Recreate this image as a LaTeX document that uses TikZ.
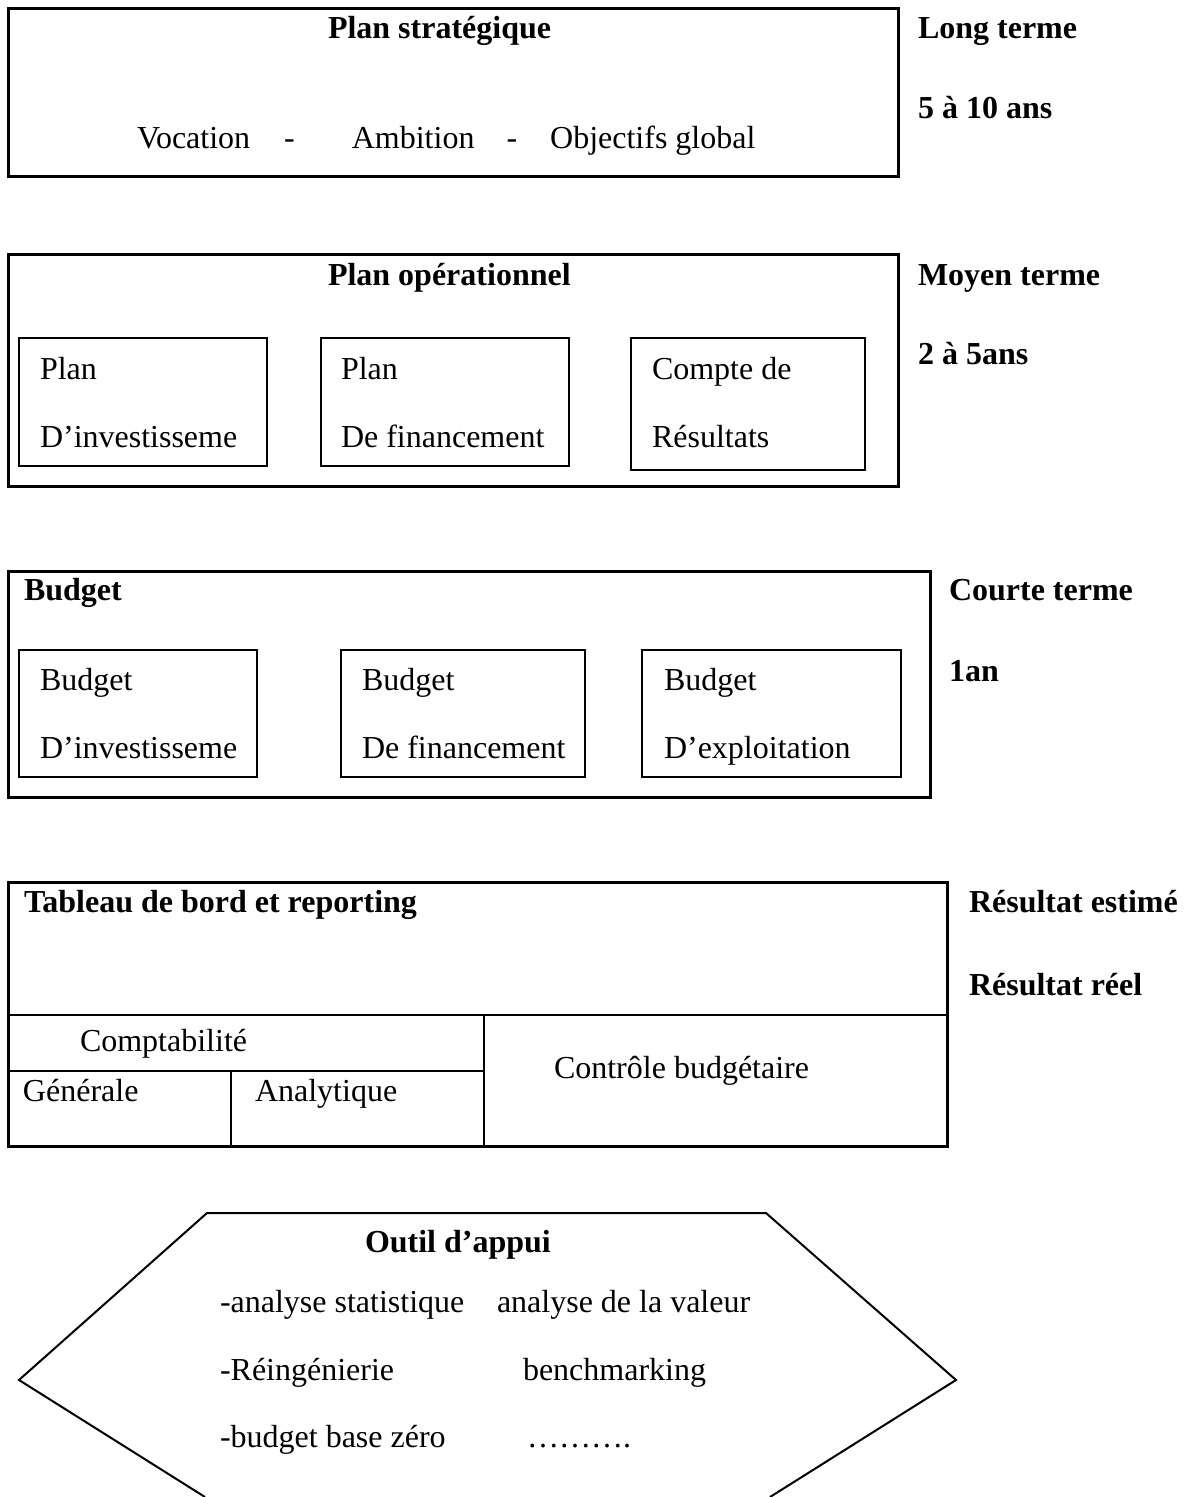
\documentclass[tikz,border=0pt]{standalone}
\usepackage{fontspec}
\setmainfont{Liberation Serif}
\begin{document}
\begin{tikzpicture}[x=1pt,y=-1pt,
  every node/.style={inner sep=0pt, outer sep=0pt},
  txt/.style={anchor=base west, font=\fontsize{32}{38}\selectfont},
  hd/.style={anchor=base west, font=\fontsize{32}{38}\selectfont\bfseries},
  outerbox/.style={draw, line width=3pt, anchor=north west},
  innerbox/.style={draw, line width=2pt, anchor=north west},
  rule/.style={line width=2.5pt},
  hexline/.style={line width=2pt, line join=miter}]
\useasboundingbox[fill=white] (0,0) rectangle (1184,1497);

% --- Plan stratégique ---
\node[outerbox, minimum width=890pt, minimum height=168pt] (strat) at (8,8) {};
\node[hd] (strattitle) at (328,38) {Plan stratégique};
\node[txt] (stratline) at (137,148) {Vocation\hspace{34pt}-\hspace{57pt}Ambition\hspace{32pt}-\hspace{33pt}Objectifs global};
\node[hd] (longt) at (918,38) {Long terme};
\node[hd] (longd) at (918,118) {5 à 10 ans};

% --- Plan opérationnel ---
\node[outerbox, minimum width=890pt, minimum height=232pt] (oper) at (8,254) {};
\node[hd] (opertitle) at (328,285) {Plan opérationnel};
\node[innerbox, minimum width=248pt, minimum height=128pt] (opa) at (19,338) {};
\node[innerbox, minimum width=248pt, minimum height=128pt] (opb) at (321,338) {};
\node[innerbox, minimum width=234pt, minimum height=132pt] (opc) at (631,338) {};
\node[txt] (opa1) at (40,379) {Plan};
\node[txt] (opa2) at (40,447) {D’investisseme};
\node[txt] (opb1) at (341,379) {Plan};
\node[txt] (opb2) at (341,447) {De financement};
\node[txt] (opc1) at (652,379) {Compte de};
\node[txt] (opc2) at (652,447) {Résultats};
\node[hd] (moyt) at (918,285) {Moyen terme};
\node[hd] (moyd) at (918,364) {2 à 5ans};

% --- Budget ---
\node[outerbox, minimum width=922pt, minimum height=226pt] (bud) at (8,571) {};
\node[hd] (budtitle) at (24,600) {Budget};
\node[innerbox, minimum width=238pt, minimum height=127pt] (bua) at (19,650) {};
\node[innerbox, minimum width=244pt, minimum height=127pt] (bub) at (341,650) {};
\node[innerbox, minimum width=259pt, minimum height=127pt] (buc) at (642,650) {};
\node[txt] (bua1) at (40,690) {Budget};
\node[txt] (bua2) at (40,758) {D’investisseme};
\node[txt] (bub1) at (362,690) {Budget};
\node[txt] (bub2) at (362,758) {De financement};
\node[txt] (buc1) at (664,690) {Budget};
\node[txt] (buc2) at (664,758) {D’exploitation};
\node[hd] (court) at (949,600) {Courte terme};
\node[hd] (courd) at (949,681) {1an};

% --- Tableau de bord ---
\node[outerbox, minimum width=939pt, minimum height=264pt] (tab) at (8,882) {};
\draw[rule] (8,1015) -- (947,1015);
\draw[rule] (484,1015) -- (484,1146);
\draw[rule] (8,1071) -- (484,1071);
\draw[rule] (231,1071) -- (231,1146);
\node[hd] (tabtitle) at (24,912) {Tableau de bord et reporting};
\node[txt] (compta) at (80,1051) {Comptabilité};
\node[txt] (gen) at (23,1101) {Générale};
\node[txt] (ana) at (255,1101) {Analytique};
\node[txt] (ctrl) at (554,1078) {Contrôle budgétaire};
\node[hd] (resest) at (969,912) {Résultat estimé};
\node[hd] (resreel) at (969,995) {Résultat réel};

% --- Outil d'appui ---
\draw[hexline] (205,1497) -- (19,1380) -- (207,1213) -- (766,1213) -- (956,1380) -- (770,1497);
\node[hd] (outil) at (365,1252) {Outil d’appui};
\node[txt] (o1) at (220,1312) {-analyse statistique};
\node[txt] (o2) at (497,1312) {analyse de la valeur};
\node[txt] (o3) at (220,1380) {-Réingénierie};
\node[txt] (o4) at (523,1380) {benchmarking};
\node[txt] (o5) at (220,1447) {-budget base zéro};
\node[txt] (o6) at (527,1447) {……….};
\end{tikzpicture}
\end{document}
